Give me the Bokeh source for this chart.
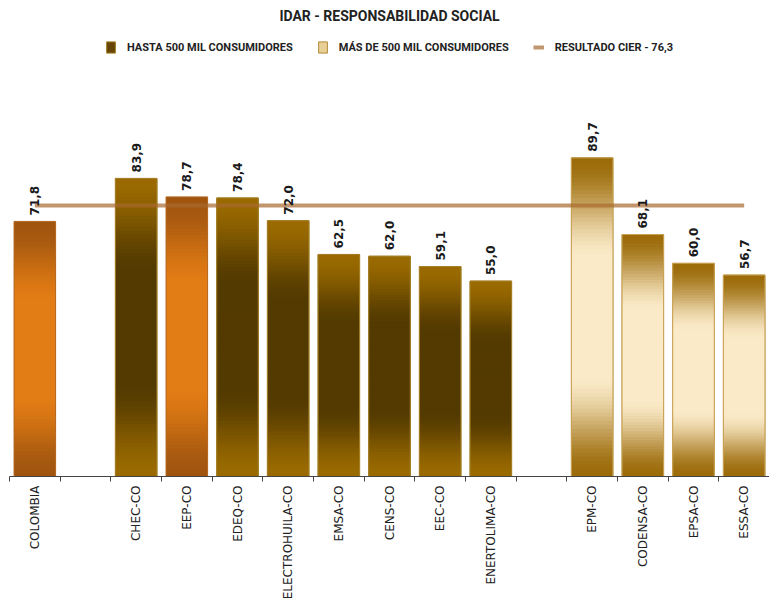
import math
from bokeh.plotting import figure
from bokeh.models import Range1d, FixedTicker, Legend, LegendItem, ColumnDataSource
from bokeh.core.properties import value
from bokeh.embed import file_html
from bokeh.resources import INLINE

# ---------------- data ----------------
TITLE = "IDAR - RESPONSABILIDAD SOCIAL"
slot_labels = ["COLOMBIA", "", "CHEC-CO", "EEP-CO", "EDEQ-CO", "ELECTROHUILA-CO",
               "EMSA-CO", "CENS-CO", "EEC-CO", "ENERTOLIMA-CO", "",
               "EPM-CO", "CODENSA-CO", "EPSA-CO", "ESSA-CO"]
bar_names = ["COLOMBIA", "CHEC-CO", "EEP-CO", "EDEQ-CO", "ELECTROHUILA-CO", "EMSA-CO",
             "CENS-CO", "EEC-CO", "ENERTOLIMA-CO", "EPM-CO", "CODENSA-CO", "EPSA-CO", "ESSA-CO"]
bar_values = [71.8, 83.9, 78.7, 78.4, 72.0, 62.5, 62.0, 59.1, 55.0, 89.7, 68.1, 60.0, 56.7]
bar_groups = ["pais", "hasta", "foco", "hasta", "hasta", "hasta", "hasta", "hasta", "hasta",
              "mas", "mas", "mas", "mas"]
series_labels = {"hasta": "HASTA 500 MIL CONSUMIDORES", "mas": "MÁS DE 500 MIL CONSUMIDORES"}
cier_label = "RESULTADO CIER - 76,3"
cier_value = 76.3

# ---------------- styles ----------------
STYLE = {
    "hasta": dict(edge="#9a6a00", mid="#533a00", line="#a58028"),
    "mas": dict(edge="#9c6c0a", mid="#fbeac8", line="#c9a253"),
    "pais": dict(edge="#a0550f", mid="#e27c14", line="#b5651d"),
    "foco": dict(edge="#a0550f", mid="#e27c14", line="#b5651d"),
}
BAR_W = 0.82
N_BANDS = 80
HEAD_FONT = "Roboto"
YMAX = 126.1


def hex2rgb(h):
    h = h.lstrip("#")
    return tuple(int(h[i:i + 2], 16) for i in (0, 2, 4))


def mix(c1, c2, t):
    a, b = hex2rgb(c1), hex2rgb(c2)
    return "#%02x%02x%02x" % tuple(int(round(a[k] + (b[k] - a[k]) * t)) for k in range(3))


def grad(f, st):
    if f < 0.32:
        t = f / 0.32
        t = t * t * (3 - 2 * t)
        return mix(st["edge"], st["mid"], t)
    if f > 0.68:
        t = (1 - f) / 0.32
        t = t * t * (3 - 2 * t)
        return mix(st["edge"], st["mid"], t)
    return st["mid"]


slot_x = [i + 0.5 for i in range(len(slot_labels))]
xpos = {name: slot_labels.index(name) + 0.5 for name in bar_names}
bar_x = [xpos[n] for n in bar_names]

p = figure(width=769, height=602, output_backend="svg", toolbar_location=None,
           x_range=Range1d(0, len(slot_labels)), y_range=Range1d(0, YMAX),
           min_border_left=9, min_border_right=0, min_border_top=5, min_border_bottom=0)
p.title.text = TITLE
p.title.align = "center"
p.title.offset = 2
p.title.text_font = HEAD_FONT
p.title.text_font_size = "14px"
p.title.text_font_style = "bold"
p.title.text_color = "#222222"
p.outline_line_color = None
p.xgrid.visible = False
p.ygrid.visible = False
p.yaxis.visible = False
p.background_fill_color = "white"
p.border_fill_color = "white"

# legend-only renderers (covered by the gradient bands)
dark_idx = [i for i, g in enumerate(bar_groups) if g == "hasta"]
light_idx = [i for i, g in enumerate(bar_groups) if g == "mas"]
r_dark = p.vbar(x=[bar_x[i] for i in dark_idx], top=[bar_values[i] for i in dark_idx],
                width=BAR_W, fill_color="#664505", line_color="#a58028")
r_light = p.vbar(x=[bar_x[i] for i in light_idx], top=[bar_values[i] for i in light_idx],
                 width=BAR_W, fill_color="#e8cf95", line_color="#b08a3c")

# gradient bands
bx, bb, bt, bc = [], [], [], []
for x, v, g in zip(bar_x, bar_values, bar_groups):
    st = STYLE[g]
    for j in range(N_BANDS):
        bx.append(x)
        bb.append(v * j / N_BANDS)
        bt.append(v * min(1.0, (j + 1.6) / N_BANDS))
        bc.append(grad((j + 0.5) / N_BANDS, st))
band_src = ColumnDataSource(dict(x=bx, bottom=bb, top=bt, color=bc))
p.vbar(x="x", bottom="bottom", top="top", width=BAR_W, source=band_src,
       fill_color="color", line_color=None)

# outlines
p.vbar(x=bar_x, top=bar_values, width=BAR_W, fill_color=None,
       line_color=[STYLE[g]["line"] for g in bar_groups], line_width=1)

# CIER line
r_line = p.line(x=[bar_x[0], bar_x[-1]], y=[cier_value, cier_value],
                line_color="#a8692e", line_alpha=0.7, line_width=4)

# value labels
p.text(x=bar_x, y=bar_values,
       text=[("%.1f" % v).replace(".", ",") for v in bar_values],
       angle=math.pi / 2, text_align="left", text_baseline="middle",
       y_offset=-6, text_font=value("DejaVu Sans"), text_font_style="bold",
       text_font_size="12px", text_color="#1a1a1a")

# x axis: labels centred in slots, ticks on slot boundaries
ax = p.xaxis[0]
ax.ticker = FixedTicker(ticks=slot_x, minor_ticks=list(range(len(slot_labels) + 1)))
ax.major_label_overrides = {x: lab for x, lab in zip(slot_x, slot_labels)}
ax.major_label_orientation = math.pi / 2
ax.major_tick_out = 0
ax.major_tick_in = 0
ax.minor_tick_out = 5
ax.minor_tick_in = 0
ax.minor_tick_line_color = "#444444"
ax.axis_line_color = "#444444"
ax.major_label_standoff = 4
ax.major_label_text_font = "DejaVu Sans"
ax.major_label_text_font_size = "12px"
ax.major_label_text_color = "#222222"

legend = Legend(items=[
    LegendItem(label=series_labels["hasta"], renderers=[r_dark]),
    LegendItem(label=series_labels["mas"], renderers=[r_light]),
    LegendItem(label=cier_label, renderers=[r_line]),
], orientation="horizontal", location="top_center",
    label_text_font=HEAD_FONT, label_text_font_size="11px", label_text_font_style="bold",
    label_text_color="#222222", glyph_width=11, glyph_height=14, spacing=24,
    label_standoff=11, border_line_color=None, background_fill_alpha=0,
    padding=0, margin=12)
p.add_layout(legend)

open("out.html", "w").write(file_html(p, INLINE))
